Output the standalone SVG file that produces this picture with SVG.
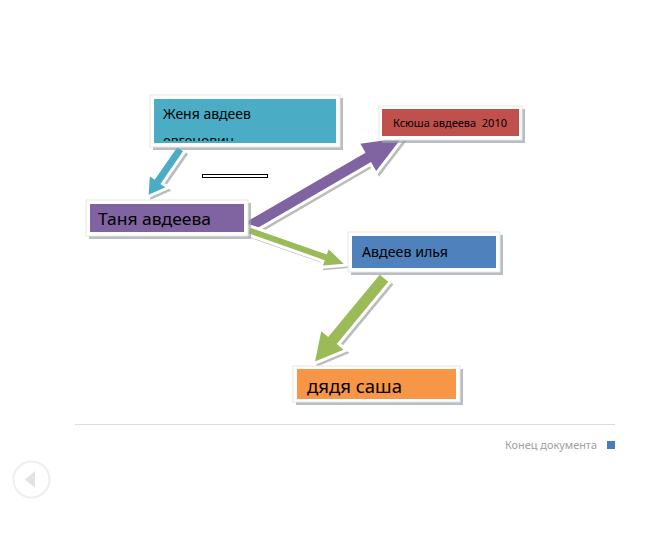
<svg xmlns="http://www.w3.org/2000/svg" width="667" height="538" viewBox="0 0 667 538">
<style>
.shadow{fill:#9aa3a8;opacity:0.7}
.frame{fill:#ffffff;stroke:#e6e6e6;stroke-width:1}
.lbl{font-family:"Noto Sans","Open Sans",sans-serif;fill:#000}
.arr{stroke:#ffffff;stroke-width:3;stroke-linejoin:miter}
.ashadow{fill:#a8adaa;opacity:0.8}
</style>
<defs>
<clipPath id="clipTeal"><rect x="154" y="99" width="182" height="42"/></clipPath>
</defs>
<rect width="667" height="538" fill="#ffffff"/>

<g id="connectors">
  <!-- teal arrow -->
  <g transform="translate(3,3)"><polygon class="ashadow" points="185.1,150.9 162.5,183.5 168.3,187.5 147,197 148.5,173.7 154.3,177.7 176.9,145.1"/></g>
  <polygon class="arr" fill="#4bacc6" points="185.1,150.9 162.5,183.5 168.3,187.5 147,197 148.5,173.7 154.3,177.7 176.9,145.1"/>
  <!-- purple arrow -->
  <g transform="translate(3,3)"><polygon class="ashadow" points="241.5,223 363.5,152.1 358,142.5 405,136 376,173.7 370.5,164.1 248.5,235"/></g>
  <polygon class="arr" fill="#8064a2" points="241.5,223 363.5,152.1 358,142.5 405,136 376,173.7 370.5,164.1 248.5,235"/>
  <!-- green arrow 1 -->
  <g transform="translate(2,3)"><polygon class="ashadow" points="249.5,225.8 325.9,252.7 328.1,246.6 347,265 320.7,267.2 322.9,261.1 246.5,234.2"/></g>
  <polygon class="arr" fill="#9bbb59" points="249.5,225.8 325.9,252.7 328.1,246.6 347,265 320.7,267.2 322.9,261.1 246.5,234.2"/>
  <!-- green arrow 2 -->
  <g transform="translate(3,3)"><polygon class="ashadow" points="390.4,281.5 338.8,343.8 346.5,350.1 313,364 320.3,328.5 328,334.8 379.6,272.5"/></g>
  <polygon class="arr" fill="#9bbb59" points="390.4,281.5 338.8,343.8 346.5,350.1 313,364 320.3,328.5 328,334.8 379.6,272.5"/>
</g>

<g id="node-zhenya">
  <rect class="shadow" x="153" y="98" width="190" height="52"/>
  <rect class="frame" x="150" y="95" width="190" height="52"/>
  <rect x="154" y="99" width="182" height="44" fill="#4bacc6"/>
  <g clip-path="url(#clipTeal)">
    <text class="lbl" x="163" y="119" font-size="14">Женя авдеев</text>
    <text class="lbl" x="163" y="146" font-size="14">евгенович</text>
  </g>
</g>

<g id="node-ksyusha">
  <rect class="shadow" x="382" y="109" width="143" height="34"/>
  <rect class="frame" x="379" y="106" width="143" height="34"/>
  <rect x="382" y="109" width="137" height="27" fill="#c0504d"/>
  <text class="lbl" x="393" y="127" font-size="11" textLength="114" lengthAdjust="spacingAndGlyphs" xml:space="preserve">Ксюша авдеева  2010</text>
</g>

<g id="node-tanya">
  <rect class="shadow" x="89" y="203" width="162" height="36"/>
  <rect class="frame" x="86" y="200" width="162" height="36"/>
  <rect x="90" y="204" width="154" height="28" fill="#8064a2"/>
  <text class="lbl" x="98" y="225" font-size="17" textLength="113" lengthAdjust="spacingAndGlyphs">Таня авдеева</text>
</g>

<g id="node-ilya">
  <rect class="shadow" x="351" y="235" width="152" height="40"/>
  <rect class="frame" x="348" y="232" width="152" height="40"/>
  <rect x="352" y="236" width="144" height="32" fill="#4f81bd"/>
  <text class="lbl" x="362" y="257" font-size="14" textLength="86" lengthAdjust="spacingAndGlyphs">Авдеев илья</text>
</g>

<g id="node-sasha">
  <rect class="shadow" x="296" y="369" width="167" height="36" fill="#c8a890"/>
  <rect class="frame" x="293" y="366" width="167" height="36"/>
  <rect x="297" y="369" width="159" height="30" fill="#f79646"/>
  <text class="lbl" x="307" y="393" font-size="18" textLength="95" lengthAdjust="spacingAndGlyphs">дядя саша</text>
</g>

<rect x="202.5" y="174.5" width="65" height="3" fill="#ffffff" stroke="#000000" stroke-width="1"/>

<line x1="75" y1="424.5" x2="615" y2="424.5" stroke="#dcdcdc" stroke-width="1"/>
<text x="505" y="449" font-family="Noto Sans, Open Sans, sans-serif" font-size="10.5" fill="#a0a0a0" textLength="92" lengthAdjust="spacingAndGlyphs">Конец документа</text>
<rect x="607" y="441" width="8" height="8" fill="#4a7ebb"/>

<circle cx="31.5" cy="479.5" r="18" fill="none" stroke="#eeeeee" stroke-width="2"/>
<polygon points="25,479.5 35,471 35,488" fill="#e3e3e3"/>
</svg>
